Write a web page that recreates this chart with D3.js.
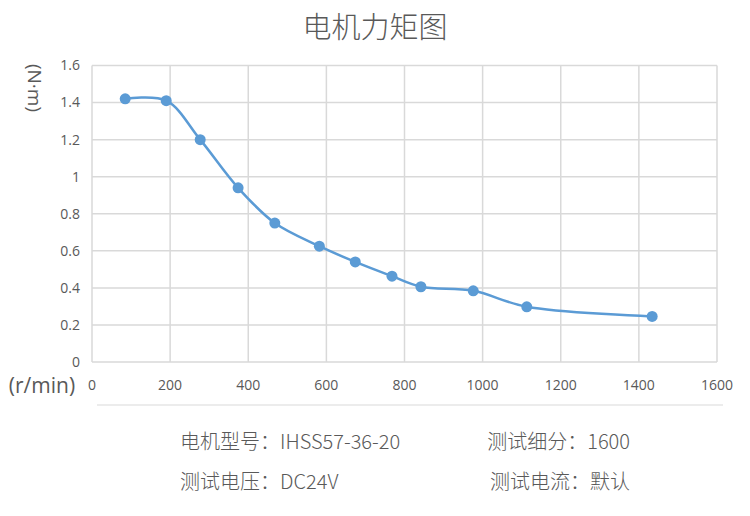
<head>
    <meta charset="utf-8">
    <style> body { margin: 0; background: #fff; } </style>
    <script src="https://d3js.org/d3.v7.min.js"></script>
</head>
<body>
    <div id="chart"></div>
    <script>
        // data
        const speed  = [85, 190, 277, 374, 468, 582, 674, 768, 842, 976, 1113, 1434];
        const torque = [1.42, 1.41, 1.20, 0.94, 0.75, 0.625, 0.54, 0.463, 0.406, 0.384, 0.298, 0.246];
        const xTicks = [0, 200, 400, 600, 800, 1000, 1200, 1400, 1600];
        const yTicks = [0, 0.2, 0.4, 0.6, 0.8, 1, 1.2, 1.4, 1.6];
        const infoLeft  = ["电机型号：IHSS57-36-20", "测试电压：DC24V"];
        const infoRight = ["测试细分：1600", "测试电流：默认"];

        const width = 750, height = 516;
        const textColor = "#595959";
        const gridColor = "#d9d9d9";
        const lineColor = "#5b9bd5";
        const numFont = "'Open Sans', 'Liberation Sans', sans-serif";
        const cjkFont = "'Noto Sans CJK SC', 'Noto Sans', sans-serif";

        const svg = d3.select("#chart")
            .append("svg")
            .attr("width", width)
            .attr("height", height);

        const x = d3.scaleLinear().domain([0, 1600]).range([92, 717]);
        const y = d3.scaleLinear().domain([0, 1.6]).range([362, 65.5]);

        // title
        svg.append("text")
            .attr("x", 375).attr("y", 38)
            .attr("text-anchor", "middle")
            .style("font-family", cjkFont)
            .style("font-size", "29px")
            .style("font-weight", 300)
            .style("fill", textColor)
            .text("电机力矩图");

        // grid
        svg.append("g")
            .selectAll("line")
            .data(yTicks)
            .enter()
            .append("line")
            .attr("x1", x(0)).attr("x2", x(1600))
            .attr("y1", d => y(d)).attr("y2", d => y(d))
            .style("stroke", gridColor)
            .style("stroke-width", 1.5);

        svg.append("g")
            .selectAll("line")
            .data(xTicks)
            .enter()
            .append("line")
            .attr("x1", d => x(d)).attr("x2", d => x(d))
            .attr("y1", y(0)).attr("y2", y(1.6))
            .style("stroke", gridColor)
            .style("stroke-width", 1.5);

        // tick labels
        svg.append("g")
            .selectAll("text")
            .data(yTicks)
            .enter()
            .append("text")
            .attr("x", 80)
            .attr("y", d => y(d))
            .attr("dy", "0.35em")
            .attr("text-anchor", "end")
            .style("font-family", numFont)
            .style("font-size", "14px")
            .style("fill", textColor)
            .text(d => d);

        svg.append("g")
            .selectAll("text")
            .data(xTicks)
            .enter()
            .append("text")
            .attr("x", d => x(d))
            .attr("y", 385)
            .attr("dy", "0.35em")
            .attr("text-anchor", "middle")
            .style("font-family", numFont)
            .style("font-size", "14px")
            .style("fill", textColor)
            .text(d => d);

        // axis titles
        svg.append("text")
            .attr("transform", "translate(35,88) rotate(90)")
            .attr("text-anchor", "middle")
            .attr("dy", "0.35em")
            .style("font-family", numFont)
            .style("font-size", "19px")
            .style("fill", textColor)
            .text("(N·m)");

        svg.append("text")
            .attr("x", 42).attr("y", 386)
            .attr("text-anchor", "middle")
            .attr("dy", "0.35em")
            .style("font-family", numFont)
            .style("font-size", "21px")
            .style("fill", textColor)
            .text("(r/min)");

        // separator
        svg.append("line")
            .attr("x1", 97).attr("x2", 723)
            .attr("y1", 405).attr("y2", 405)
            .style("stroke", gridColor)
            .style("stroke-width", 1);

        // curve
        const pts = speed.map((s, i) => [s, torque[i]]);
        const line = d3.line()
            .x(d => x(d[0]))
            .y(d => y(d[1]))
            .curve(d3.curveCatmullRom.alpha(0.5));

        svg.append("path")
            .datum(pts)
            .attr("d", line)
            .style("fill", "none")
            .style("stroke", lineColor)
            .style("stroke-width", 2.5);

        svg.append("g")
            .selectAll("circle")
            .data(pts)
            .enter()
            .append("circle")
            .attr("cx", d => x(d[0]))
            .attr("cy", d => y(d[1]))
            .attr("r", 5.5)
            .style("fill", lineColor);

        // info text
        svg.append("g")
            .selectAll("text")
            .data(infoLeft)
            .enter()
            .append("text")
            .attr("x", 180)
            .attr("y", (d, i) => 442 + i * 40)
            .attr("dy", "0.35em")
            .style("font-family", cjkFont)
            .style("font-size", "20px")
            .style("font-weight", 300)
            .style("fill", textColor)
            .text(d => d);

        svg.append("g")
            .selectAll("text")
            .data(infoRight)
            .enter()
            .append("text")
            .attr("x", 630)
            .attr("y", (d, i) => 442 + i * 40)
            .attr("dy", "0.35em")
            .attr("text-anchor", "end")
            .style("font-family", cjkFont)
            .style("font-size", "20px")
            .style("font-weight", 300)
            .style("fill", textColor)
            .text(d => d);
    </script>
</body>
